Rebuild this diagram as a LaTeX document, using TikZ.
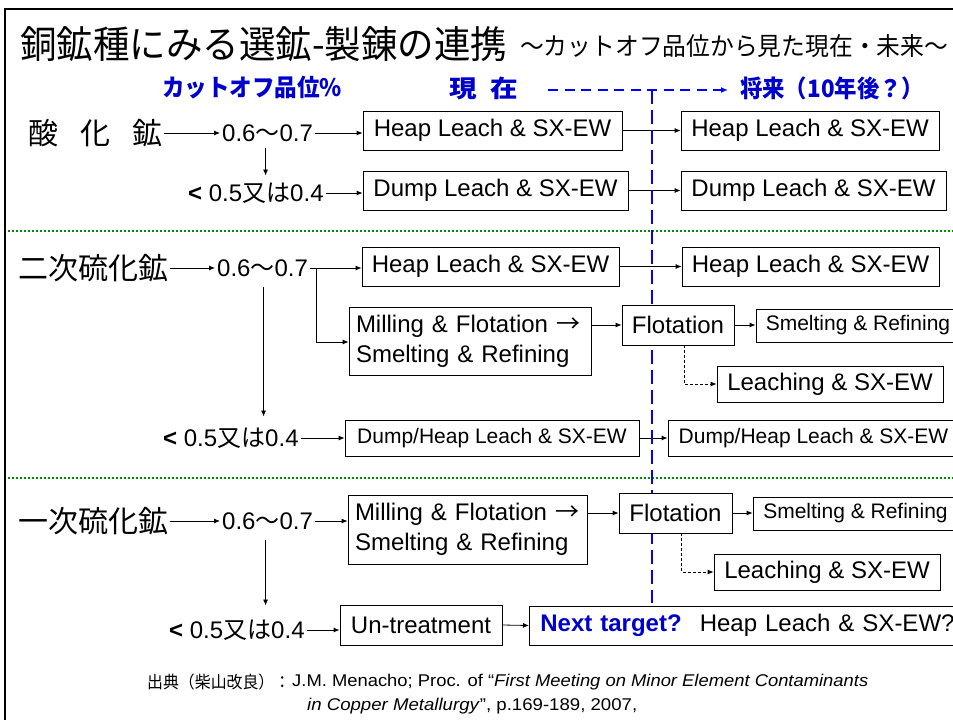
\documentclass[tikz,border=0pt]{standalone}
\usepackage{fontspec}
\usepackage{graphicx}
\setmainfont{Liberation Sans}
\newfontfamily\jp{Noto Sans CJK JP}
\usetikzlibrary{arrows.meta}
\definecolor{hblue}{RGB}{0,0,204}
\definecolor{lblue}{RGB}{0,0,255}
\definecolor{dgreen}{RGB}{0,140,0}
\newcommand{\fitw}[2]{\resizebox{#1}{\height}{#2}}
\newcommand{\fs}[1]{\fontsize{#1}{#1}\selectfont}
\newcommand{\fsl}[2]{\fontsize{#1}{#2}\selectfont}
\pgfdeclarelayer{bgl}
\pgfdeclarelayer{arrl}
\pgfdeclarelayer{bluel}
\pgfsetlayers{bgl,arrl,bluel,main}
\begin{document}
\begin{tikzpicture}[x=1pt,y=-1pt,
  box/.style={draw, line width=0.8pt, fill=white, inner sep=0pt, font=\fs{24}},
  val/.style={anchor=west, inner xsep=2pt, inner ysep=2pt, font=\fs{24}},
  ore/.style={anchor=west, inner xsep=2pt, inner ysep=0pt, font=\jp\fs{30}},
  hdr/.style={inner sep=0pt, text=hblue, font=\jp\bfseries\fs{24}},
  arr/.style={draw, line width=0.8pt, -{Latex[length=6pt,width=5pt]}},
  darr/.style={arr, dash pattern=on 3pt off 2pt},
  sepline/.style={draw=dgreen, line width=2pt, dash pattern=on 2pt off 2pt},
  vdash/.style={draw=lblue, line width=2.5pt, dash pattern=on 14pt off 6pt},
  hdash/.style={draw=lblue, line width=1.8pt, dash pattern=on 10pt off 6.5pt, -{Latex[length=7pt,width=6pt]}}]
\useasboundingbox (0,0) rectangle (953,720);
\begin{pgfonlayer}{bgl}
\fill[white] (0,0) rectangle (953,720);
\draw[line width=2pt] (5,730) -- (5,9) -- (970,9);
\draw[sepline] (8,231) -- (960,231);
\draw[sepline] (8,478) -- (960,478);
\end{pgfonlayer}

% title
\node[anchor=west, inner sep=0pt] (title) at (20,44) {\fitw{487pt}{\jp\fs{38}銅鉱種にみる選鉱-製錬の連携}};
\node[anchor=west, inner sep=0pt] (subtitle) at (520,46) {\fitw{428pt}{\jp\fs{25}～カットオフ品位から見た現在・未来～}};

% headers
\node[hdr, anchor=west] (cut) at (162,88) {\fitw{180pt}{カットオフ品位\%}};
\node[hdr, anchor=west] (now) at (449,88) {\fitw{69pt}{現\hspace{0.5em}在}};
\node[hdr, anchor=west] (fut) at (740,88) {\fitw{184pt}{将来（10年後？）}};
\coordinate (vtop) at (652,90);
\coordinate (vbot) at (652,603);

% row A
\node[ore] (oreA) at (26,133) {酸\hspace{22pt}化\hspace{22pt}鉱};
\node[val] (gA1) at (220,133) {0.6{\jp ～}0.7};
\node[val] (gA2) at (186,193) {\textbf{<} 0.5{\jp 又は}0.4};
\node[box, minimum width=259pt, minimum height=39pt] (A1) at (492.5,130.5) {Heap Leach \& SX-EW};
\node[box, minimum width=258pt, minimum height=39pt] (A1f) at (810,130.5) {Heap Leach \& SX-EW};
\node[box, minimum width=265pt, minimum height=39pt] (A2) at (495.5,190.5) {Dump Leach \& SX-EW};
\node[box, minimum width=265pt, minimum height=39pt] (A2f) at (813.5,190.5) {Dump Leach \& SX-EW};

% row B
\node[ore] (oreB) at (16,268) {二次硫化鉱};
\node[val] (gB1) at (215,268) {0.6{\jp ～}0.7};
\node[val] (gB2) at (161,438) {\textbf{<} 0.5{\jp 又は}0.4};
\node[box, minimum width=257pt, minimum height=39pt] (B1) at (490.5,266.5) {Heap Leach \& SX-EW};
\node[box, minimum width=257pt, minimum height=39pt] (B1f) at (810.5,266.5) {Heap Leach \& SX-EW};
\node[box, minimum height=68pt, text width=228pt, inner xsep=7pt, align=left, font=\fsl{24}{30}] (B2) at (470,341) {Milling \& Flotation {\jp →}\\Smelting \& Refining};
\node[box, minimum width=112pt, minimum height=40pt] (flotB) at (678,325) {Flotation};
\node[box, minimum width=204pt, minimum height=33pt, font=\fs{21}] (smeltB) at (858,325.5) {Smelting \& Refining};
\node[box, minimum width=226pt, minimum height=36pt] (leachB) at (830,384) {Leaching \& SX-EW};
\node[box, minimum width=294pt, minimum height=36pt, font=\fs{21}] (B3) at (492,438) {Dump/Heap Leach \& SX-EW};
\node[box, minimum width=291pt, minimum height=36pt, font=\fs{21}] (B3f) at (813.5,438) {Dump/Heap Leach \& SX-EW};

% row C
\node[ore] (oreC) at (16,521) {一次硫化鉱};
\node[val] (gC1) at (220,521) {0.6{\jp ～}0.7};
\node[val] (gC2) at (167,630) {\textbf{<} 0.5{\jp 又は}0.4};
\node[box, minimum height=69pt, text width=225pt, inner xsep=7pt, align=left, font=\fsl{24}{30}] (C1) at (467.5,529.5) {Milling \& Flotation {\jp →}\\Smelting \& Refining};
\node[box, minimum width=113pt, minimum height=40pt] (flotC) at (675.5,513) {Flotation};
\node[box, minimum width=205pt, minimum height=33pt, font=\fs{21}] (smeltC) at (855.5,513.5) {Smelting \& Refining};
\node[box, minimum width=226pt, minimum height=36pt] (leachC) at (827,572) {Leaching \& SX-EW};
\node[box, minimum width=162pt, minimum height=40pt] (untreat) at (421,625) {Un-treatment};
\node[box, anchor=west, minimum height=39pt, text width=419pt, inner xsep=11pt, align=left] (next) at (529,625.5) {\textcolor{hblue}{\textbf{Next target?}}\hspace{18pt}Heap Leach \& SX-EW?};

% footer
\node[anchor=west, inner sep=0pt] (foot1j) at (147,682) {\fitw{143pt}{\jp\fs{17}出典（柴山改良）：}};
\node[anchor=west, inner sep=0pt] (foot1) at (292,682) {\fitw{576pt}{\fs{17}J.M. Menacho; Proc. of “\textit{First Meeting on Minor Element Contaminants}}};
\node[anchor=west, inner sep=0pt] (foot2) at (307,706) {\fitw{330pt}{\fs{17}\textit{in Copper Metallurgy}”, p.169-189, 2007,}};

\begin{pgfonlayer}{bluel}
\draw[vdash] (vtop) -- (vbot);
\end{pgfonlayer}
\draw[hdash] (now.east) ++(30,2) -- ([xshift=-12pt,yshift=-2pt]fut.west);

\begin{pgfonlayer}{arrl}
% row A connectors
\draw[arr] (oreA.east) -- (oreA.east -| gA1.west);
\draw[arr] (gA1.east) -- (gA1.east -| A1.west);
\draw[arr] ([xshift=-2pt,yshift=-4pt]gA1.south) -- ([xshift=-2pt,yshift=5pt]gA1.south |- gA2.north);
\draw[arr] (gA2.east) -- (gA2.east -| A2.west);
\draw[arr] (A1.east) -- (A1f.west);
\draw[arr] (A2.east) -- (A2f.west);
% row B connectors
\draw[arr] (oreB.east) -- (oreB.east -| gB1.west);
\draw[line width=0.8pt] (gB1.east) -- ++(6,0) coordinate (brB);
\draw[arr] (brB) -- (brB -| B1.west);
\draw[arr] (brB) |- ([yshift=-1pt]B2.west);
\draw[arr] (B2.east |- flotB.west) -- (flotB.west);
\draw[arr] (flotB.east) -- (flotB.east -| smeltB.west);
\draw[darr] ([xshift=6pt]flotB.south) |- (leachB.west);
\draw[arr] (B1.east) -- (B1f.west);
\draw[arr] ([xshift=1pt,yshift=-8pt]gB1.south) -- ([xshift=1pt,yshift=9pt]gB1.south |- gB2.north);
\draw[arr] (gB2.east) -- (gB2.east -| B3.west);
\draw[arr] (B3.east) -- (B3f.west);
% row C connectors
\draw[arr] (oreC.east) -- (oreC.east -| gC1.west);
\draw[arr] (gC1.east) -- (gC1.east -| C1.west);
\draw[arr] (C1.east |- flotC.west) -- (flotC.west);
\draw[arr] (flotC.east) -- (flotC.east -| smeltC.west);
\draw[darr] ([xshift=6pt]flotC.south) |- (leachC.west);
\draw[arr] ([xshift=-2pt,yshift=-8pt]gC1.south) -- ([xshift=-2pt,yshift=12pt]gC1.south |- gC2.north);
\draw[arr] (gC2.east) -- (gC2.east -| untreat.west);
\draw[arr] (untreat.east) -- (next.west);
\end{pgfonlayer}
\end{tikzpicture}
\end{document}
